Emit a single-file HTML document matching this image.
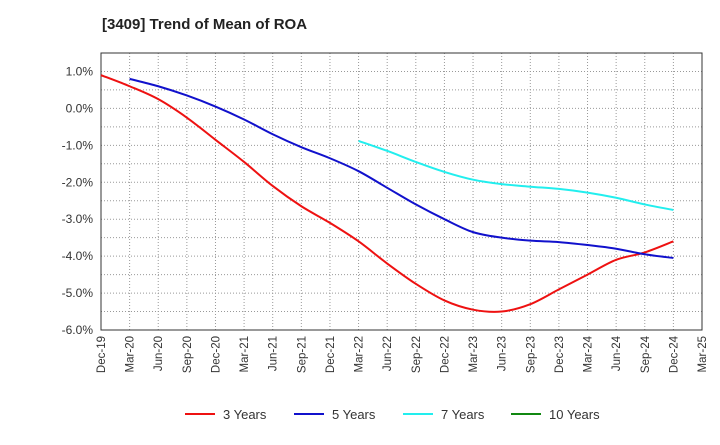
<!DOCTYPE html>
<html><head><meta charset="utf-8"><style>
body{margin:0;background:#fff;font-family:"Liberation Sans",sans-serif;}
</style></head><body>
<svg id="chart" width="720" height="440" font-family="Liberation Sans, sans-serif">
<text x="102" y="29" font-size="15" font-weight="bold" fill="#222">[3409]  Trend of Mean of ROA</text>
<g id="grid"></g><g id="axes"></g><g id="series"></g><g id="legend"></g>
</svg>
<script>
const xLabels=["Dec-19","Mar-20","Jun-20","Sep-20","Dec-20","Mar-21","Jun-21","Sep-21","Dec-21","Mar-22","Jun-22","Sep-22","Dec-22","Mar-23","Jun-23","Sep-23","Dec-23","Mar-24","Jun-24","Sep-24","Dec-24","Mar-25"];
const yTicks=[1,0,-1,-2,-3,-4,-5,-6];
const y3=[0.9,0.6,0.25,-0.25,-0.85,-1.45,-2.1,-2.65,-3.1,-3.6,-4.2,-4.75,-5.2,-5.45,-5.5,-5.3,-4.9,-4.5,-4.1,-3.9,-3.6];
const y5=[0.8,0.6,0.35,0.05,-0.3,-0.7,-1.05,-1.35,-1.7,-2.15,-2.6,-3.0,-3.35,-3.5,-3.58,-3.62,-3.7,-3.8,-3.95,-4.05];
const y7=[-0.88,-1.15,-1.45,-1.72,-1.93,-2.05,-2.12,-2.18,-2.28,-2.42,-2.6,-2.75];
const y10=[];
const L=101,R=702,T=53,B=330;
const X=i=>L+i*(R-L)/(xLabels.length-1);
const Y=v=>T+(1.5-v)*(B-T)/7.5;
const NS="http://www.w3.org/2000/svg";
function mk(t,a,p){const e=document.createElementNS(NS,t);for(const k in a)e.setAttribute(k,a[k]);p.appendChild(e);return e;}
const grid=document.getElementById('grid'),axes=document.getElementById('axes');
xLabels.forEach((l,i)=>{
 if(i>0&&i<xLabels.length-1){const g=mk('line',{x1:X(i),x2:X(i),y1:T,y2:B,stroke:'#999','stroke-dasharray':'1,2'},grid);
 
 }
 const t=mk('text',{x:0,y:0,'font-size':11.5,fill:'#333','text-anchor':'end',transform:`translate(${X(i)+4},${B+6}) rotate(-90)`},axes);
 t.textContent=l;
 
 
});
for(let v=1.5;v>-6;v-=0.5){
 const g=mk('line',{x1:L,x2:R,y1:Y(v),y2:Y(v),stroke:'#999','stroke-dasharray':'1,2'},grid);
 
 
}
yTicks.forEach(v=>{
 const t=mk('text',{x:L-8,y:Y(v)+4,'font-size':12,fill:'#333','text-anchor':'end'},axes);
 t.textContent=v.toFixed(1)+'%';
 
 
});
const fr=mk('rect',{x:L,y:T,width:R-L,height:B-T,fill:'none',stroke:'#333'},axes);


function path(vals,start){
 const p=vals.map((v,i)=>[X(i+start),Y(v)]);if(!p.length)return'';
 let d=`M${p[0][0]},${p[0][1]}`;
 for(let i=0;i<p.length-1;i++){const a=p[i-1]||p[i],b=p[i],c=p[i+1],e=p[i+2]||c;
  d+=` C${b[0]+(c[0]-a[0])/6},${b[1]+(c[1]-a[1])/6} ${c[0]-(e[0]-b[0])/6},${c[1]-(e[1]-b[1])/6} ${c[0]},${c[1]}`;}
 return d;
}
const ser=document.getElementById('series');
[[y3,0,'#ee1111','3 Years','line-3-years'],[y5,1,'#1111cc','5 Years','line-5-years'],[y7,9,'#22eeee','7 Years','line-7-years'],[y10,0,'#118811','10 Years','line-10-years']].forEach((s,k)=>{
 if(s[0].length){const p=mk('path',{d:path(s[0],s[1]),fill:'none',stroke:s[2],'stroke-width':2},ser);
 
 }
 const lx=[185,294,403,511][k];
 const g=mk('g',{},document.getElementById('legend'));
 
 
 mk('line',{x1:lx,x2:lx+30,y1:414,y2:414,stroke:s[2],'stroke-width':2},g);
 const t=mk('text',{x:lx+38,y:419,'font-size':13,fill:'#333'},g);t.textContent=s[3];
});
</script>
</body></html>
